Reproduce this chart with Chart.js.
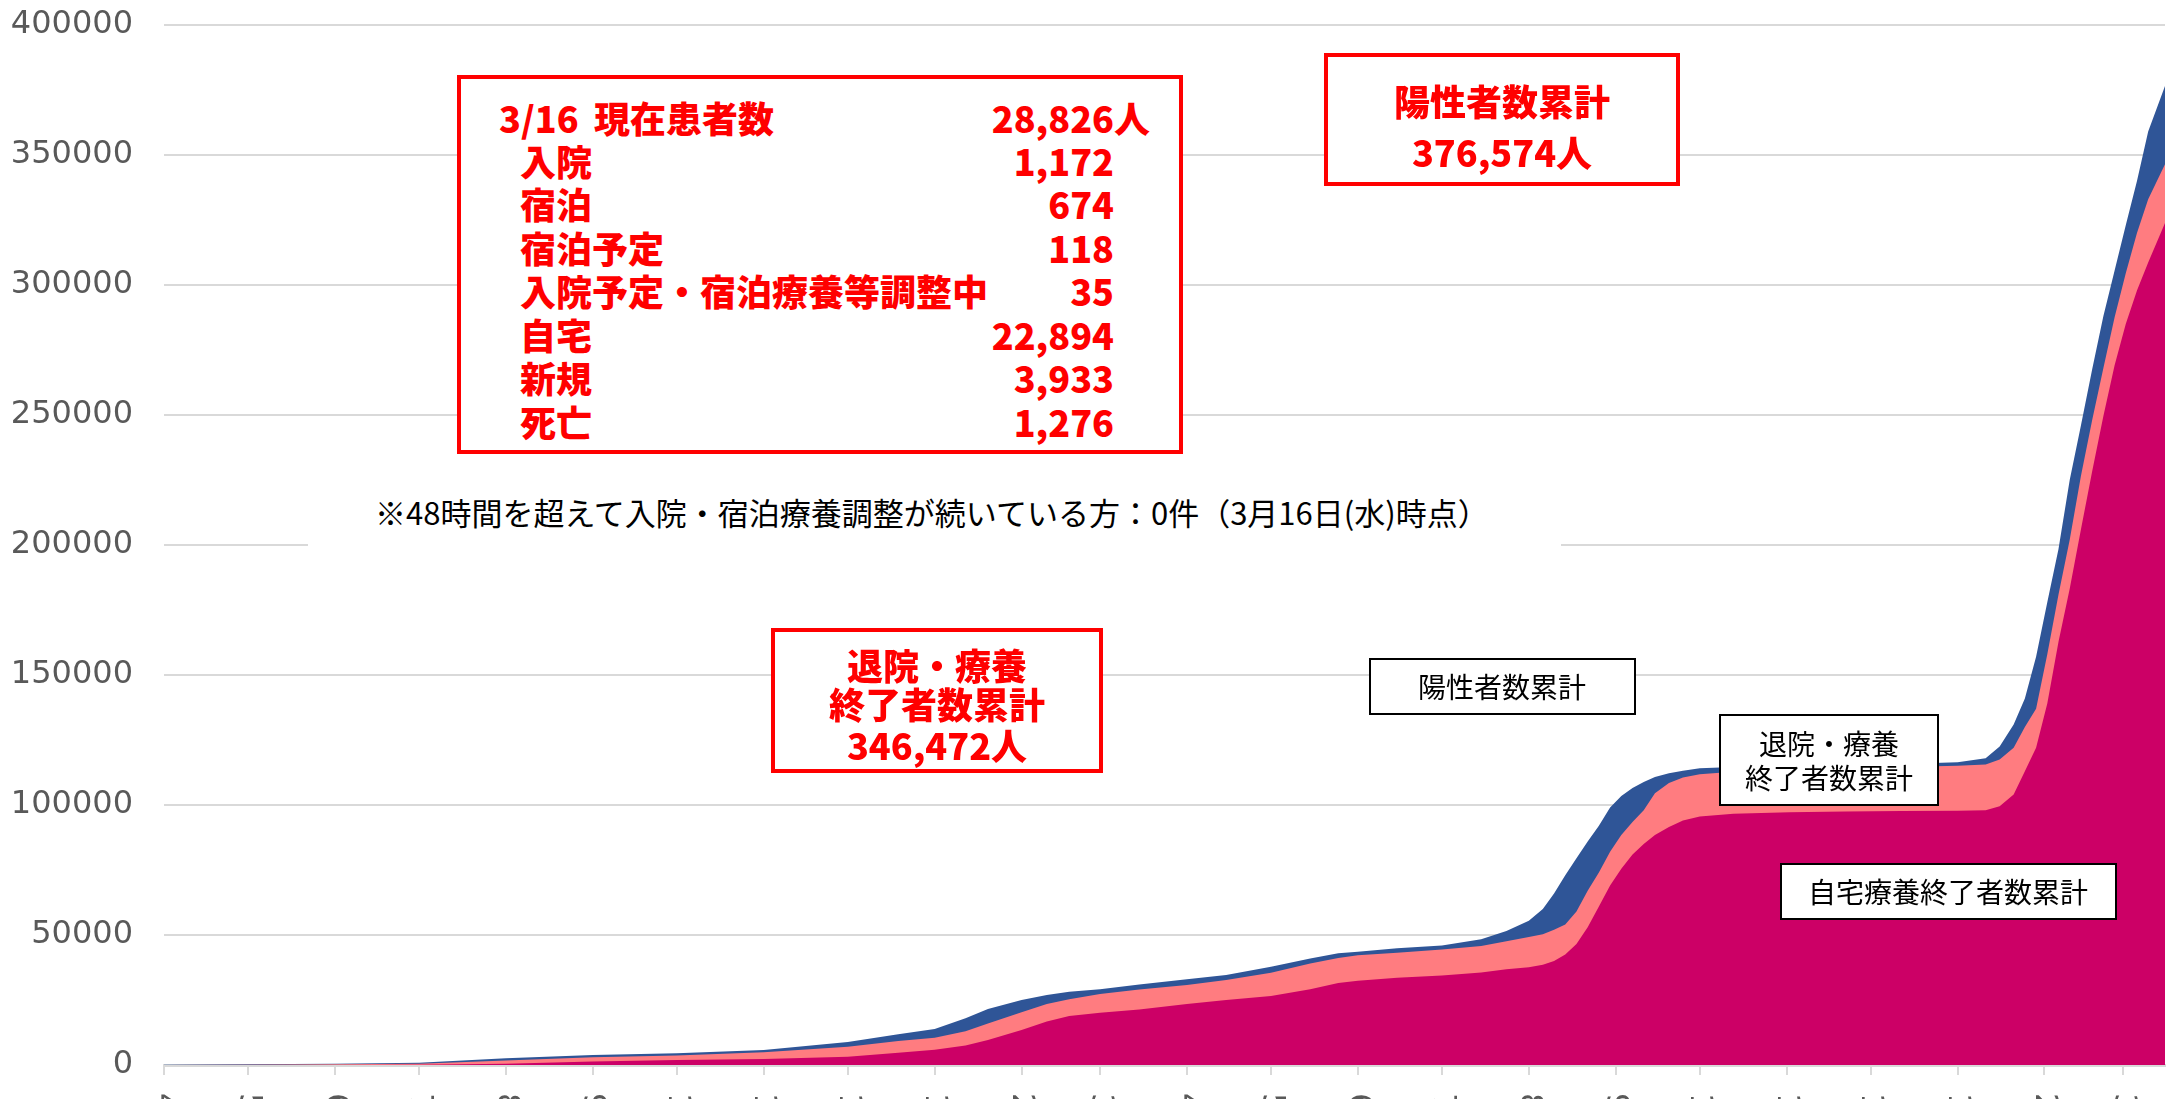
<!DOCTYPE html>
<html lang="ja">
<head>
<meta charset="utf-8">
<title>陽性者数累計</title>
<script src="https://cdn.jsdelivr.net/npm/chart.js@4.4.1/dist/chart.umd.min.js"></script>
<style>
  html, body { margin: 0; padding: 0; background: #fff; overflow: hidden; }
  #wrap { position: relative; width: 2176px; height: 1099px; }
  #chart { position: absolute; left: 0; top: 0; }
  .box { position: absolute; background: #fff; box-sizing: border-box; }
  .red { border: 4px solid #ff0000; }
  .blk { border: 2px solid #000; }
  .t { position: absolute; white-space: pre; font-family: "Noto Sans CJK JP", sans-serif; }
  .r { color: #ff0000; font-weight: 900; font-size: 36px; line-height: 36px; }
  .k { color: #000; font-size: 28px; line-height: 28px; }
  .c { width: 600px; text-align: center; }
  .num { width: 300px; text-align: right; }
</style>
</head>
<body>
<div id="wrap">
  <canvas id="chart" width="2176" height="1099"></canvas>

  <!-- note line (white band hides the 200000 grid line) -->
  <div class="box" style="left:308px; top:480px; width:1253px; height:70px;"></div>
  <div class="t" style="left:375px; top:496px; font-size:31px; line-height:31px; color:#000;">※48時間を超えて入院・宿泊療養調整が続いている方：0件（3月16日(水)時点）</div>

  <!-- current patients table -->
  <div class="box red" style="left:457px; top:75px; width:726px; height:379px;"></div>
  <div class="t r" style="left:499px; top:99px;">3/16</div>
  <div class="t r" style="left:594px; top:99px;">現在患者数</div>
  <div class="t r num" style="left:814px; top:99px;">28,826</div>
  <div class="t r" style="left:1114px; top:99px;">人</div>
  <div class="t r" style="left:520px; top:142px;">入院</div>
  <div class="t r num" style="left:814px; top:142px;">1,172</div>
  <div class="t r" style="left:520px; top:185px;">宿泊</div>
  <div class="t r num" style="left:814px; top:185px;">674</div>
  <div class="t r" style="left:520px; top:229px;">宿泊予定</div>
  <div class="t r num" style="left:814px; top:229px;">118</div>
  <div class="t r" style="left:520px; top:272px;">入院予定・宿泊療養等調整中</div>
  <div class="t r num" style="left:814px; top:272px;">35</div>
  <div class="t r" style="left:520px; top:316px;">自宅</div>
  <div class="t r num" style="left:814px; top:316px;">22,894</div>
  <div class="t r" style="left:520px; top:359px;">新規</div>
  <div class="t r num" style="left:814px; top:359px;">3,933</div>
  <div class="t r" style="left:520px; top:403px;">死亡</div>
  <div class="t r num" style="left:814px; top:403px;">1,276</div>

  <!-- cumulative positives -->
  <div class="box red" style="left:1324px; top:53px; width:356px; height:133px;"></div>
  <div class="t r c" style="left:1202px; top:82px;">陽性者数累計</div>
  <div class="t r c" style="left:1202px; top:133px;">376,574人</div>

  <!-- cumulative discharged -->
  <div class="box red" style="left:771px; top:628px; width:332px; height:145px;"></div>
  <div class="t r c" style="left:637px; top:646px;">退院・療養</div>
  <div class="t r c" style="left:637px; top:685px;">終了者数累計</div>
  <div class="t r c" style="left:637px; top:726px;">346,472人</div>

  <!-- series captions -->
  <div class="box blk" style="left:1369px; top:658px; width:267px; height:57px;"></div>
  <div class="t k c" style="left:1202px; top:672px;">陽性者数累計</div>
  <div class="box blk" style="left:1719px; top:714px; width:220px; height:92px;"></div>
  <div class="t k c" style="left:1529px; top:729px;">退院・療養</div>
  <div class="t k c" style="left:1529px; top:763px;">終了者数累計</div>
  <div class="box blk" style="left:1780px; top:863px; width:337px; height:57px;"></div>
  <div class="t k c" style="left:1648px; top:877px;">自宅療養終了者数累計</div>
</div>

<script>
// sample dates and cumulative counts at each date
const dates = [
  '2020-04-01', '2020-05-01', '2020-06-01', '2020-07-01', '2020-08-01', '2020-09-01',
  '2020-10-01', '2020-11-01', '2020-12-01', '2020-12-19', '2021-01-01', '2021-01-12',
  '2021-01-20', '2021-02-01', '2021-02-10', '2021-02-18', '2021-03-01', '2021-03-15',
  '2021-04-01', '2021-04-15', '2021-05-01', '2021-05-15', '2021-05-25', '2021-06-01',
  '2021-06-15', '2021-07-01', '2021-07-15', '2021-07-24', '2021-08-01', '2021-08-06',
  '2021-08-10', '2021-08-14', '2021-08-18', '2021-08-22', '2021-08-26', '2021-08-30',
  '2021-09-03', '2021-09-07', '2021-09-11', '2021-09-15', '2021-09-20', '2021-09-25',
  '2021-10-01', '2021-10-13', '2021-11-02', '2021-11-22', '2021-12-12', '2022-01-01',
  '2022-01-11', '2022-01-16', '2022-01-21', '2022-01-25', '2022-01-29', '2022-02-02',
  '2022-02-06', '2022-02-10', '2022-02-14', '2022-02-18', '2022-02-22', '2022-02-26',
  '2022-03-02', '2022-03-06', '2022-03-10', '2022-03-16'
];

// 陽性者数累計
const positives = [
  100, 300, 450, 900, 2600, 3800,
  4500, 5800, 8800, 11800, 13800, 18000,
  21500, 25000, 26900, 28200, 29100, 31000,
  33000, 34600, 37800, 41000, 43000, 43600,
  44900, 46000, 48400, 51500, 55500, 60000,
  66000, 73000, 79500, 86000, 92000, 99000,
  103500, 106500, 108800, 110800, 112200, 113200,
  114100, 114600, 115100, 115500, 115800, 116400,
  118000, 122500, 131000, 141000, 157000, 178000,
  198500, 225000, 246000, 267500, 288000, 305500,
  323000, 340000, 359000, 376574
];

// 退院・療養終了者数累計
const recovered = [
  0, 100, 300, 500, 1700, 3000,
  3700, 4900, 7000, 9200, 10500, 13000,
  16000, 20300, 23500, 25300, 27300, 29000,
  30800, 32700, 35500, 39000, 41200, 42200,
  43200, 44400, 45800, 47600, 49200, 50300,
  52000, 54000, 59000, 67000, 74000, 82000,
  88500, 93500, 98000, 104500, 108500, 110600,
  111800, 112800, 113600, 114200, 114600, 115100,
  115600, 117500, 122000, 130000, 137000, 158000,
  181000, 202000, 226500, 248000, 268000, 287500,
  304500, 320000, 333000, 346472
];

// 自宅療養終了者数累計
const homeCareEnded = [
  0, 0, 0, 100, 500, 1300,
  1900, 2300, 3200, 4700, 5900, 7500,
  9600, 13500, 16700, 18800, 20100, 21300,
  23500, 25000, 26500, 29100, 31500, 32400,
  33600, 34400, 35600, 36800, 37600, 38600,
  40000, 42500, 46500, 53000, 61000, 69000,
  75500, 81000, 85000, 88500, 91500, 94000,
  95600, 96600, 97200, 97500, 97700, 97800,
  98000, 99500, 104000, 113000, 122000, 139000,
  162800, 183200, 206000, 228300, 249500, 269000,
  285000, 297900, 308700, 323800
];

// month ticks on the date axis
const monthTicks = [
  '2020-04-01', '2020-05-01', '2020-06-01', '2020-07-01', '2020-08-01', '2020-09-01',
  '2020-10-01', '2020-11-01', '2020-12-01', '2021-01-01', '2021-02-01', '2021-03-01',
  '2021-04-01', '2021-05-01', '2021-06-01', '2021-07-01', '2021-08-01', '2021-09-01',
  '2021-10-01', '2021-11-01', '2021-12-01', '2022-01-01', '2022-02-01', '2022-03-01'
];
const monthLabels = [
  '4/1', '5/1', '6/1', '7/1', '8/1', '9/1', '10/1', '11/1', '12/1', '1/1', '2/1', '3/1',
  '4/1', '5/1', '6/1', '7/1', '8/1', '9/1', '10/1', '11/1', '12/1', '1/1', '2/1', '3/1'
];

const DAY = 86400000;
const start = Date.parse(dates[0]);
const toDay = s => Math.round((Date.parse(s) - start) / DAY);
const points = arr => arr.map((v, i) => ({ x: toDay(dates[i]), y: v }));

// vertical date labels, clipped by the bottom of the window like the original
const monthLabelPlugin = {
  id: 'monthLabels',
  afterDraw(chart) {
    const xs = chart.scales.x;
    const ctx = chart.ctx;
    ctx.save();
    ctx.font = '32px "DejaVu Sans"';
    ctx.fillStyle = '#595959';
    ctx.textAlign = 'left';
    ctx.textBaseline = 'middle';
    monthTicks.forEach((d, i) => {
      ctx.save();
      ctx.translate(xs.getPixelForValue(toDay(d)), xs.top + 28);
      ctx.rotate(Math.PI / 2);
      ctx.fillText(monthLabels[i], 0, 0);
      ctx.restore();
    });
    ctx.restore();
  }
};

new Chart(document.getElementById('chart'), {
  type: 'line',
  data: {
    datasets: [
      { label: '自宅療養終了者数累計', data: points(homeCareEnded), backgroundColor: '#CC0066', fill: 'origin' },
      { label: '退院・療養終了者数累計', data: points(recovered), backgroundColor: '#FF7C80', fill: 'origin' },
      { label: '陽性者数累計', data: points(positives), backgroundColor: '#2F5597', fill: 'origin' }
    ]
  },
  options: {
    responsive: false,
    animation: false,
    elements: {
      point: { radius: 0 },
      line: { borderWidth: 0, tension: 0 }
    },
    layout: { padding: { top: 25, right: 11, left: 0, bottom: 0 } },
    plugins: {
      legend: { display: false },
      tooltip: { enabled: false }
    },
    scales: {
      x: {
        type: 'linear',
        min: 0,
        max: toDay(dates[dates.length - 1]),
        afterBuildTicks: s => { s.ticks = monthTicks.map(d => ({ value: toDay(d) })); },
        afterFit: s => { s.height = 34; },
        ticks: { display: false },
        grid: { drawOnChartArea: false, drawTicks: true, tickLength: 10, color: '#D9D9D9', lineWidth: 2 },
        border: { color: '#D9D9D9', width: 3 }
      },
      y: {
        min: 0,
        max: 400000,
        afterFit: s => { s.width = 164; },
        ticks: {
          stepSize: 50000,
          padding: 0,
          color: '#595959',
          font: { family: 'DejaVu Sans', size: 32, lineHeight: 1 },
          callback: v => String(v)
        },
        // invisible tick marks give the gap between labels and plot
        grid: { color: '#D9D9D9', lineWidth: 2, drawTicks: true, tickLength: 31, tickColor: 'rgba(0,0,0,0)' },
        border: { display: false }
      }
    }
  },
  plugins: [monthLabelPlugin]
});
</script>
</body>
</html>
